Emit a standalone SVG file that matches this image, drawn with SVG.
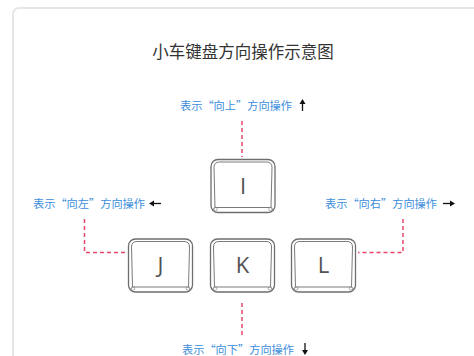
<svg xmlns="http://www.w3.org/2000/svg" width="474" height="356" viewBox="0 0 474 356">
<style>
.title{font-family:"Noto Sans CJK SC","Noto Sans",sans-serif;font-size:16.5px;fill:#333;}
.lbl{font-family:"Noto Sans CJK SC","Noto Sans",sans-serif;font-size:11.2px;fill:#3b8ddb;}
.key-letter{font-family:"Open Sans","Liberation Sans",sans-serif;font-size:22px;fill:#505050;text-anchor:middle;}
.dash{fill:none;stroke:#e8456b;stroke-width:1.5;stroke-dasharray:4 3;}
.arr{stroke:#111;stroke-width:1.3;fill:none;}
.arrh{fill:#111;}
</style>
<defs>
<g id="keyshape">
<rect x="0" y="0" width="64" height="53" rx="7" fill="#fff" stroke="#6e6e6e" stroke-width="1.3"/>
<path d="M4,48 L3,8 Q3,2.5 8.5,2.5 L55.5,2.5 Q61,2.5 61,8 L60,48 Z" fill="#fff" stroke="#7a7a7a" stroke-width="1"/>
<line x1="4" y1="48" x2="1.5" y2="51" stroke="#7a7a7a" stroke-width="0.8"/>
<line x1="60" y1="48" x2="62.5" y2="51" stroke="#7a7a7a" stroke-width="0.8"/>
<circle cx="4.5" cy="49.5" r="1.8" fill="none" stroke="#8a8a8a" stroke-width="0.7"/>
<circle cx="59.5" cy="49.5" r="1.8" fill="none" stroke="#8a8a8a" stroke-width="0.7"/>
</g>
</defs>
<rect x="13" y="8" width="480" height="400" rx="6" fill="#fff" stroke="#e6e6e6" stroke-width="2"/>
<text class="title" x="243" y="58" text-anchor="middle">小车键盘方向操作示意图</text>

<g id="connectors">
<path class="dash" d="M242,121 L242,157"/>
<path class="dash" d="M84.5,219 L84.5,252.5 L128,252.5"/>
<path class="dash" d="M403,219 L403,252.5 L358,252.5"/>
<path class="dash" d="M242,303 L242,338"/>
</g>

<g id="key-I">
<use href="#keyshape" x="211" y="159.5"/>
<text class="key-letter" x="243" y="194">I</text>
</g>
<g id="key-J">
<use href="#keyshape" x="128.5" y="239"/>
<text class="key-letter" x="160.5" y="273">J</text>
</g>
<g id="key-K">
<use href="#keyshape" x="210.5" y="239"/>
<text class="key-letter" x="242.5" y="273">K</text>
</g>
<g id="key-L">
<use href="#keyshape" x="291.5" y="239"/>
<text class="key-letter" x="323.5" y="273">L</text>
</g>

<g id="label-up">
<text class="lbl" x="180" y="110" textLength="112">表示“向上”方向操作</text>
<line class="arr" x1="302.5" y1="103" x2="302.5" y2="111"/>
<path class="arrh" d="M299.5,104 L302.5,99 L305.5,104 Z"/>
</g>
<g id="label-left">
<text class="lbl" x="33" y="208" textLength="112">表示“向左”方向操作</text>
<line class="arr" x1="153" y1="203.5" x2="161" y2="203.5"/>
<path class="arrh" d="M154,200.5 L149,203.5 L154,206.5 Z"/>
</g>
<g id="label-right">
<text class="lbl" x="325" y="208" textLength="112">表示“向右”方向操作</text>
<line class="arr" x1="443" y1="203.5" x2="451" y2="203.5"/>
<path class="arrh" d="M450,200.5 L455,203.5 L450,206.5 Z"/>
</g>
<g id="label-down">
<text class="lbl" x="182" y="354" textLength="112">表示“向下”方向操作</text>
<line class="arr" x1="305" y1="343" x2="305" y2="351"/>
<path class="arrh" d="M302,350 L305,355 L308,350 Z"/>
</g>
</svg>
